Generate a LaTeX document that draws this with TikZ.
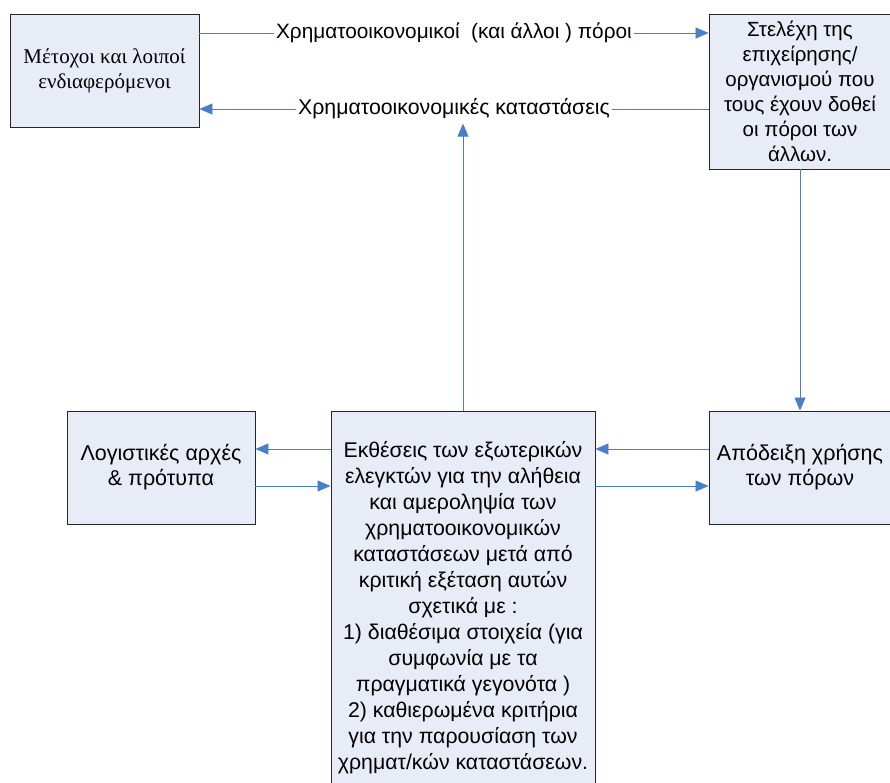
\documentclass[tikz,border=0pt]{standalone}
\usepackage{fontspec}
\setmainfont{Liberation Sans}
\newfontfamily\serifgr{Liberation Serif}
\usetikzlibrary{arrows.meta}
\definecolor{boxfill}{RGB}{232,236,247}
\definecolor{linkblue}{RGB}{74,126,200}
\begin{document}
\begin{tikzpicture}[x=1pt, y=-1pt, font=\fontsize{21.3}{26}\selectfont,
  box/.style={draw=black!85, fill=boxfill, line width=0.9pt, align=center, inner sep=2pt},
  link/.style={draw=linkblue, line width=0.8pt, -{Triangle[length=13pt,width=11pt]}},
  lbl/.style={fill=white, inner sep=2pt}]
\useasboundingbox (0,0) rectangle (890,783);
\node[box, minimum width=189pt, minimum height=113pt, font=\serifgr\fontsize{21}{25}\selectfont] (holders) at (104.5,70.5) {Μέτοχοι και λοιποί\\ενδιαφερόμενοι};
\node[box, minimum width=182pt, minimum height=155pt, font=\fontsize{20.5}{25}\selectfont] (staff) at (800,91.5) {Στελέχη της\\επιχείρησης/\\οργανισμού που\\τους έχουν δοθεί\\οι πόροι των\\άλλων.};
\node[box, minimum width=188pt, minimum height=113pt, font=\fontsize{21.5}{25}\selectfont] (rules) at (161,467.5) {Λογιστικές αρχές\\\& πρότυπα};
\node[box, minimum width=264pt, minimum height=394pt] (audit) at (463,608) {Εκθέσεις των εξωτερικών\\ελεγκτών για την αλήθεια\\και αμεροληψία των\\χρηματοοικονομικών\\καταστάσεων μετά από\\κριτική εξέταση αυτών\\σχετικά με :\\1) διαθέσιμα στοιχεία (για\\συμφωνία με τα\\πραγματικά γεγονότα )\\2) καθιερωμένα κριτήρια\\για την παρουσίαση των\\χρηματ/κών καταστάσεων.};
\node[box, minimum width=182pt, minimum height=113pt, font=\fontsize{21.5}{25}\selectfont] (proof) at (800,467.5) {Απόδειξη χρήσης\\των πόρων};
\coordinate (resin) at ([yshift=37.5pt]holders.east);
\coordinate (fsin) at ([yshift=-17.5pt]staff.west);
\coordinate (upper) at ([yshift=18.5pt]rules.east);
\coordinate (lower) at ([yshift=-18.5pt]rules.east);
\draw[link] (resin) -- node[lbl, font=\fontsize{20.8}{26}\selectfont] {Χρηματοοικονομικοί\ \ (και άλλοι ) πόροι} (resin -| staff.west);
\draw[link] (fsin) -- node[lbl] (fsl) {Χρηματοοικονομικές καταστάσεις} (fsin -| holders.east);
\draw[link, shorten >=2pt] (audit.north) -- (audit.north |- fsl.south);
\draw[link] (staff.south) -- (proof.north);
\draw[link] (upper -| audit.west) -- (upper);
\draw[link] (lower) -- (lower -| audit.west);
\draw[link] (upper -| proof.west) -- (upper -| audit.east);
\draw[link] (lower -| audit.east) -- (lower -| proof.west);
\end{tikzpicture}
\end{document}
